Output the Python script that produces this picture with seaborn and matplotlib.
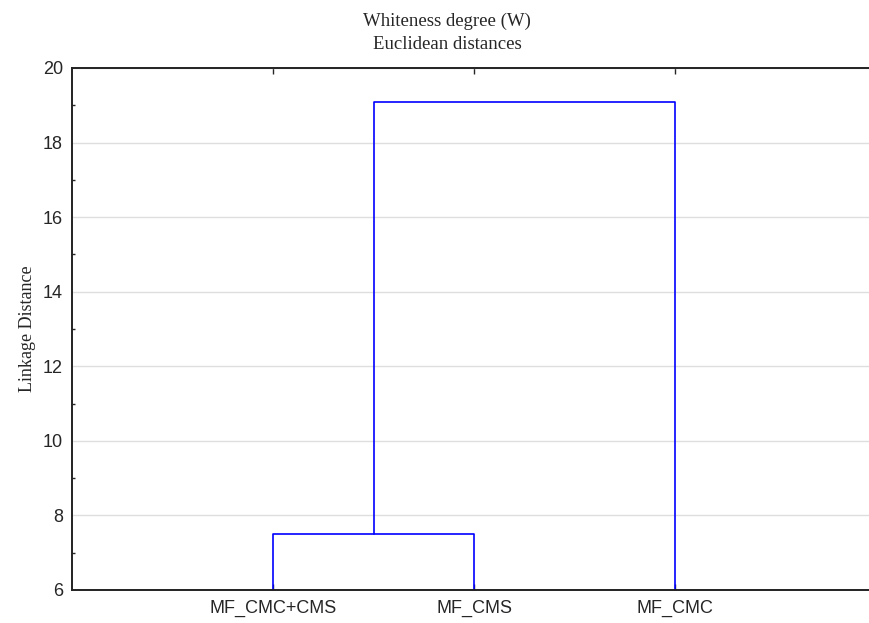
import matplotlib
matplotlib.use("Agg")
import matplotlib.pyplot as plt
import seaborn as sns
import pandas as pd
from matplotlib.ticker import MultipleLocator

# Data
leaf_labels = ["MF_CMC+CMS", "MF_CMS", "MF_CMC"]
merge_heights = [7.5, 19.1]   # linkage distances of the two joins
baseline = 6.0

sns.set_style("white")
plt.rcParams['font.family'] = ['Liberation Sans', 'DejaVu Sans']

fig = plt.figure(figsize=(8.7, 6.23), dpi=100)
ax = fig.add_axes([72/870, 1-590/623, 1-72/870, (590-68)/623])

# Build dendrogram segments from data
pos = {lab: i + 1 for i, lab in enumerate(leaf_labels)}
x1, x2 = pos[leaf_labels[0]], pos[leaf_labels[1]]
h1 = merge_heights[0]
seg1 = pd.DataFrame({"x": [x1, x1, x2, x2], "y": [baseline, h1, h1, baseline], "seg": 0})
xm = (x1 + x2) / 2
x3 = pos[leaf_labels[2]]
h2 = merge_heights[1]
seg2 = pd.DataFrame({"x": [xm, xm, x3, x3], "y": [h1, h2, h2, baseline], "seg": 1})
df = pd.concat([seg1, seg2], ignore_index=True)

for _, g in df.groupby("seg"):
    sns.lineplot(data=g, x="x", y="y", sort=False, estimator=None, ax=ax,
                 color="#0000ff", linewidth=1.2)

ax.set_xlim(0, 3.97)
ax.set_ylim(6, 20)
ax.yaxis.set_major_locator(MultipleLocator(2))
ax.yaxis.set_minor_locator(MultipleLocator(1))
ax.set_xticks([1, 2, 3])
ax.set_xticklabels(leaf_labels, fontsize=13)
ax.tick_params(axis="y", labelsize=13, direction="in", length=4, width=1, which="major", pad=6.5)
ax.tick_params(axis="y", direction="in", length=2.5, width=1, which="minor", left=True)
ax.tick_params(axis="x", direction="in", length=4, width=1, top=True, bottom=True, pad=7)
ax.grid(axis="y", which="major", color="#dedede", linewidth=1)
ax.set_axisbelow(True)

for s in ["left", "bottom", "top"]:
    ax.spines[s].set_visible(True)
    ax.spines[s].set_color("#222222")
    ax.spines[s].set_linewidth(1.4)
ax.spines["right"].set_visible(False)

ax.set_xlabel("")
ax.set_ylabel("Linkage Distance", fontsize=13, family=["Liberation Serif", "DejaVu Serif"])
ax.yaxis.set_label_coords(-0.045, 0.5)
fig.text(447/870, 1 - 33/623, "Whiteness degree (W)\nEuclidean distances", fontsize=13.5,
         family=["Liberation Serif", "DejaVu Serif"], ha="center", va="center",
         linespacing=1.5)

fig.savefig("out.png", dpi=100)
